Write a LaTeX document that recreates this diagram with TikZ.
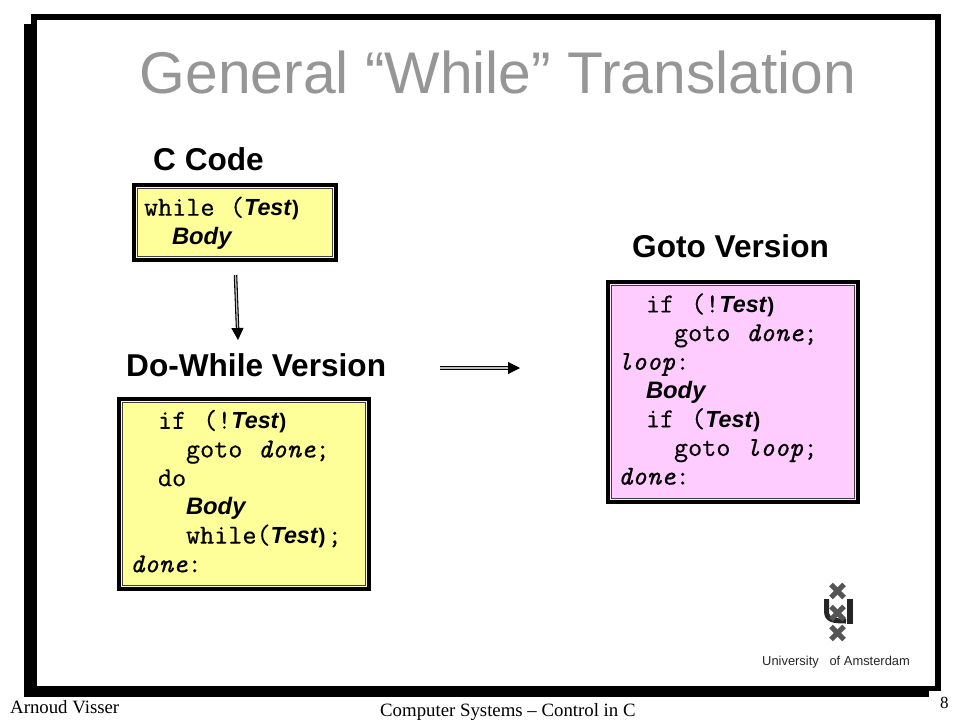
\documentclass[tikz,border=0pt]{standalone}
\usepackage{fontspec}
\setmainfont{Liberation Sans}
\setmonofont{Latin Modern Mono}[UprightFeatures={FakeBold=0.4}, ItalicFeatures={FakeBold=0.4}]
\newfontfamily\footfont{Liberation Serif}
\usetikzlibrary{arrows.meta}
\definecolor{boxyellow}{HTML}{FFFF99}
\definecolor{boxpink}{HTML}{FFCCFF}
\definecolor{titlegray}{HTML}{969696}
\definecolor{crossgray}{HTML}{555555}
\newcommand{\cw}[1]{\hspace*{#1\dimexpr 14pt\relax}}
\newcommand{\gap}{\hspace*{15.5pt}}
\newcommand{\wgap}{\hspace*{17pt}}
\newcommand{\tst}{{\rmfamily\bfseries\itshape\fontsize{23.3}{28.7}\selectfont Test}}
\newcommand{\bdy}{{\rmfamily\bfseries\itshape\fontsize{23.8}{28.7}\selectfont Body}}
\newcommand{\cl}{\kern1pt{\rmfamily\bfseries\fontsize{21}{28.7}\selectfont)}}
\newcommand{\lift}[1]{\\[\dimexpr#1-28.7pt\relax]\mbox{}}
\tikzstyle{codebox}=[draw=black, line width=4.5pt, inner xsep=10pt, inner ysep=0pt, align=left, text=black,
	font=\ttfamily\fontsize{27.4}{28.7}\selectfont,
	path picture={
		\draw[white, opacity=.55, line width=1pt] ([shift={(2.8pt,2.8pt)}]path picture bounding box.south west) rectangle ([shift={(-2.8pt,-2.8pt)}]path picture bounding box.north east);
		\draw[black!75, line width=.9pt] ([shift={(3.9pt,3.9pt)}]path picture bounding box.south west) rectangle ([shift={(-3.9pt,-3.9pt)}]path picture bounding box.north east);
	}]
\tikzstyle{heading}=[font=\bfseries\fontsize{31.6}{34}\selectfont, inner sep=0pt]
\tikzstyle{flowarrow}=[draw=black, line width=1.1pt, double=black!25, double distance=1.3pt, -{Triangle[length=12pt,width=12pt]}]
\tikzstyle{footer}=[font=\footfont\fontsize{18.8}{20}\selectfont, inner sep=0pt, anchor=base west]

\begin{document}
\begin{tikzpicture}[x=1pt,y=-1pt]
	\useasboundingbox (0,0) rectangle (960,720);
	% slide frame
	\fill[white] (0,0) rectangle (960,720);
	\fill[black] (31,14) rectangle (941,691);
	\fill[black] (24,24) rectangle (929,697);
	\fill[white] (37,20) rectangle (935,686);

	\node[font=\fontsize{58.8}{60}\selectfont, text=titlegray, inner sep=0pt, anchor=base] (title) at (498,93) {General “While” Translation};

	\node[heading, anchor=base west] (clabel) at (153,170) {C Code};
	\node[heading, anchor=base west] (dolabel) at (126,376) {Do-While Version};
	\node[heading, anchor=base west] (gotolabel) at (632,257) {Goto Version};

	\node[codebox, fill=boxyellow, minimum width=202pt, minimum height=75pt, text width=182pt] (whilebox) at (235,222.5)
		{while\gap(\tst\cl\\ \cw{2}\bdy\lift{4pt}};
	\node[codebox, fill=boxyellow, minimum width=250pt, minimum height=190pt, text width=228pt, inner xsep=11pt] (dobox) at (244,494)
		{\cw{2}if\wgap(!\tst\cl\\
		\cw{4}goto\gap\textit{done};\\
		\cw{2}do\\
		\cw{4}\bdy\\
		\cw{4}while(\tst\cl\kern2pt;\\
		\textit{done}:\lift{6pt}};
	\node[codebox, fill=boxpink, minimum width=250pt, minimum height=220pt, text width=230pt] (gotobox) at (733,392)
		{\cw{2}if\wgap(!\tst\cl\\
		\cw{4}goto\gap\textit{done};\\
		\textit{loop}:\\
		\cw{2}\bdy\\
		\cw{2}if\wgap(\tst\cl\\
		\cw{4}goto\gap\textit{loop};\\
		\textit{done}:\lift{6pt}};

	\coordinate (downstart) at (235.5,275);
	\coordinate (downend) at (238,340);
	\coordinate (rightstart) at (440,368);
	\coordinate (rightend) at (520,368);
	\draw[flowarrow] (downstart) -- (downend);
	\draw[flowarrow] (rightstart) -- (rightend);

	% logo
	\draw[black!85, line width=5pt] (826.5,599) -- (826.5,611) .. controls (826.5,620) and (833,621) .. (846,621);
	\draw[black!85, line width=6pt] (849.5,599) -- (849.5,624);
	\foreach \cy in {591,613,633}{
		\draw[crossgray, line width=5pt] (831,\cy-6.5) -- (844,\cy+6.5);
		\draw[crossgray, line width=5pt] (844,\cy-6.5) -- (831,\cy+6.5);
	}
	\node[font=\fontsize{12.9}{14}\selectfont, text=black!85, inner sep=0pt, anchor=base west] (uva) at (762,665) {University\ \ \ of Amsterdam};

	\node[footer] (author) at (10,713) {Arnoud Visser};
	\node[footer] (course) at (380,716) {Computer Systems – Control in C};
	\node[footer, font=\footfont\fontsize{17}{20}\selectfont] (pagenum) at (940,708) {8};
\end{tikzpicture}
\end{document}
